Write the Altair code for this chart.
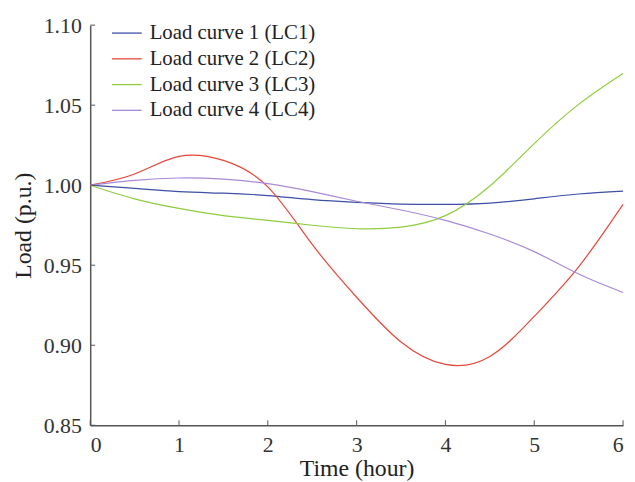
import altair as alt
import pandas as pd

hours = [0, 0.5, 1, 1.5, 2, 2.5, 3, 3.5, 4, 4.5, 5, 5.5, 6]
lc1 = [1.000, 0.998, 0.996, 0.9950, 0.9935, 0.991, 0.9893, 0.9882, 0.9880, 0.9888, 0.9915, 0.9945, 0.9963]
lc2 = [1.000, 1.007, 1.018, 1.0155, 0.999, 0.963, 0.930, 0.902, 0.888, 0.893, 0.918, 0.949, 0.988]
lc3 = [1.000, 0.9915, 0.9855, 0.981, 0.978, 0.975, 0.9728, 0.9738, 0.981, 0.9995, 1.026, 1.0505, 1.0698]
lc4 = [1.000, 1.003, 1.0045, 1.0038, 1.001, 0.996, 0.990, 0.9845, 0.978, 0.9695, 0.9585, 0.9445, 0.933]

series_names = ["Load curve 1 (LC1)", "Load curve 2 (LC2)", "Load curve 3 (LC3)", "Load curve 4 (LC4)"]
series_colors = ["#3d4fa6", "#e5483c", "#8fcd3f", "#a98ad8"]

x_ticks = [0, 1, 2, 3, 4, 5, 6]
y_ticks = [0.85, 0.90, 0.95, 1.00, 1.05, 1.10]

rows = []
for name, vals in zip(series_names, [lc1, lc2, lc3, lc4]):
    for h, v in zip(hours, vals):
        rows.append({"Time": h, "Load": v, "Series": name})
df = pd.DataFrame(rows)

FONT = "Liberation Serif"
W, H = 538, 404
TICK = 5
xscale = alt.Scale(domain=[0, 6], nice=False, zero=False)
yscale = alt.Scale(domain=[0.85, 1.10], nice=False, zero=False)

lines = alt.Chart(df).mark_line(strokeWidth=1.2, interpolate="natural").encode(
    x=alt.X("Time:Q", scale=xscale,
            axis=alt.Axis(title="Time (hour)", values=x_ticks, format="d",
                          ticks=False, tickSize=0, grid=False, labelPadding=9,
                          titlePadding=2)),
    y=alt.Y("Load:Q", scale=yscale,
            axis=alt.Axis(title="Load (p.u.)", values=y_ticks, format=".2f",
                          ticks=False, tickSize=0, grid=False, labelPadding=9,
                          titlePadding=8)),
    color=alt.Color("Series:N",
                    scale=alt.Scale(domain=series_names, range=series_colors),
                    legend=alt.Legend(title=None, orient="none", legendX=21, legendY=-8,
                                      symbolType="stroke", symbolSize=900,
                                      symbolStrokeWidth=1.3, labelFontSize=21,
                                      labelFont=FONT, labelColor="#222222",
                                      labelLimit=400,
                                      rowPadding=-3, labelOffset=7, padding=0)),
)

xt = pd.DataFrame({"t": x_ticks})
yt = pd.DataFrame({"v": y_ticks})

# inward-pointing tick marks along the axes
xtick_marks = alt.Chart(xt).mark_rule(strokeWidth=1, color="#555555").encode(
    x=alt.X("t:Q", scale=xscale),
    y=alt.value(H - TICK),
    y2=alt.value(H))
ytick_marks = alt.Chart(yt).mark_rule(strokeWidth=1, color="#555555").encode(
    y=alt.Y("v:Q", scale=yscale),
    x=alt.value(0),
    x2=alt.value(TICK))

chart = alt.layer(lines, xtick_marks, ytick_marks).properties(
    width=W, height=H,
    autosize=alt.AutoSizeParams(type="none"),
    padding={"left": 83, "top": 15, "right": 4, "bottom": 60},
).configure(background="white").configure_view(stroke=None).configure_axis(
    domainColor="#555555", domainWidth=1.5,
    labelFont=FONT, labelFontSize=22, labelColor="#333333",
    titleFont=FONT, titleFontSize=24, titleFontWeight="normal", titleColor="#222222",
)

chart.save("out.html", embed_options={"renderer": "svg", "actions": False})
